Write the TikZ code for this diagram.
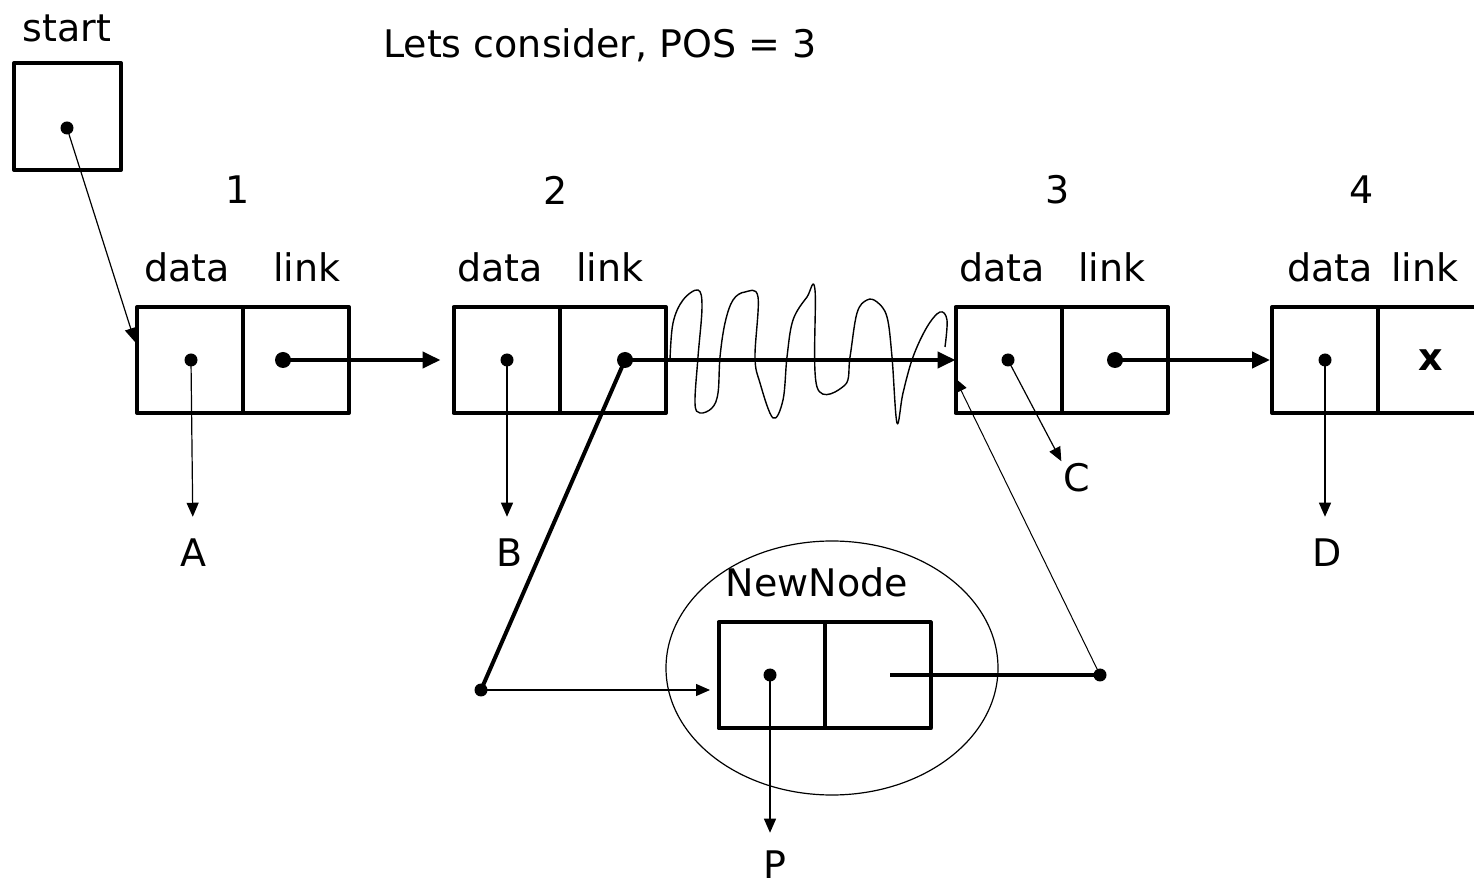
\documentclass[tikz,border=0pt]{standalone}
\usepackage{fontspec}
\setmainfont{DejaVu Sans}
\usetikzlibrary{arrows.meta}

\tikzset{
  cell/.style={draw,line width=2pt,minimum size=53pt,inner sep=0pt,outer sep=0pt},
  dot/.style={circle,fill,minimum size=6.5pt,inner sep=0pt},
  lbl/.style={inner sep=1pt,font=\fontsize{19}{23}\selectfont},
  ptr/.style={line width=2pt,-{Triangle[length=9pt,width=8pt]}},
  thinptr/.style={line width=0.6pt,-{Triangle[length=7pt,width=6pt]}},
  thinline/.style={line width=0.6pt}
}

\begin{document}
\begin{tikzpicture}[x=0.5pt,y=-0.5pt,line join=round]
  \useasboundingbox (0,0) rectangle (1474,887);

  % start pointer
  \node[lbl] (startlbl) at (67,28) {start};
  \node[cell,minimum size=53.5pt] (start) at (67.5,116.5) {};
  \node[dot] (ds) at (67,128) {};

  % list nodes
  \node[cell] (n1d) at (190,360) {};
  \node[cell] (n1l) at (296,360) {};
  \node[cell] (n2d) at (506.5,360) {};
  \node[cell] (n2l) at (613,360) {};
  \node[cell] (n3d) at (1008.5,360) {};
  \node[cell] (n3l) at (1115,360) {};
  \node[cell] (n4d) at (1325,360) {};
  \node[cell] (n4l) at (1431,360) {};
  \node[lbl,font=\fontsize{19}{23}\selectfont\bfseries] at (n4l) {x};

  % new node
  \draw[thinline] (832,668) ellipse [x radius=166, y radius=127];
  \node[lbl] (nnlbl) at (817,582) {NewNode};
  \node[cell] (n5d) at (771.5,675.5) {};
  \node[cell] (n5l) at (877.5,675.5) {};

  % indices and field names
  \node[lbl] at (238,190) {1};
  \node[lbl] at (556,190) {2};
  \node[lbl] at (1058,190) {3};
  \node[lbl] at (1362,190) {4};
  \foreach \dx/\lx in {187/307,500/610,1002/1112,1330/1425}{
    \node[lbl] at (\dx,267) {data};
    \node[lbl] at (\lx,267) {link};
  }
  \node[lbl] (title) at (600,45) {Lets consider, POS = 3};

  % data labels
  \node[lbl] (A) at (193,553) {A};
  \node[lbl] (B) at (510,553) {B};
  \node[lbl] (C) at (1077,478) {C};
  \node[lbl] (D) at (1327,553) {D};
  \node[lbl] (P) at (775,865) {P};

  % dots
  \node[dot] (d1) at (191,360) {};
  \node[dot,minimum size=8pt] (l1) at (283,360) {};
  \node[dot] (d2) at (507,360) {};
  \node[dot,minimum size=8pt] (l2) at (625,360) {};
  \node[dot] (d3) at (1008,360) {};
  \node[dot,minimum size=8pt] (l3) at (1115,360) {};
  \node[dot] (d4) at (1325,360) {};
  \node[dot] (d5) at (770,675) {};
  \node[dot] (bend) at (481,690) {};
  \node[dot] (tail) at (1100,675) {};
  \coordinate (in1) at (135,342);
  \coordinate (in5) at (710,690);
  \coordinate (lk5) at (890,675);
  \coordinate (in3) at (955,378);

  % broken link
  \draw[line width=0.7pt] plot[smooth,tension=0.6] coordinates {
    (670,360) (673,323) (683,300) (698,290) (702,307) (698,357) (695,403)
    (700,413) (712,408) (718,393) (720,357) (725,323) (733,300) (745,292)
    (758,297) (755,357) (760,383) (773,418) (783,400) (787,357) (793,320)
    (807,297) (815,290) (817,387) (845,385) (850,357) (857,313) (867,300)
    (877,302) (887,317) (892,357) (897,423) (903,393) (913,357) (927,327)
    (940,312) (947,320) (945,347)};

  % connectors
  \draw[thinptr] (ds.center) -- (in1);
  \draw[ptr,shorten >=6.5pt] (l1.center) -- (n2d.west);
  \draw[ptr] (l2.center) -- (n3d.west);
  \draw[ptr,shorten >=1pt] (l3.center) -- (n4d.west);
  \draw[thinptr,shorten >=10pt] (d1.center) -- (A.north);
  \draw[thinptr,shorten >=10pt] (d2.center) -- (B.north -| d2);
  \draw[thinptr] (d3.center) -- (C.north west);
  \draw[thinptr,shorten >=10pt] (d4.center) -- (D.north -| d4);
  \draw[thinptr,shorten >=8pt] (d5.center) -- (P.north -| d5);
  \draw[line width=2pt] (l2.center) -- (bend.center);
  \draw[thinptr] (bend.center) -- (in5);
  \draw[line width=2pt] (lk5) -- (tail.center);
  \draw[thinptr,line width=0.5pt] (tail.center) -- (in3);
\end{tikzpicture}
\end{document}
